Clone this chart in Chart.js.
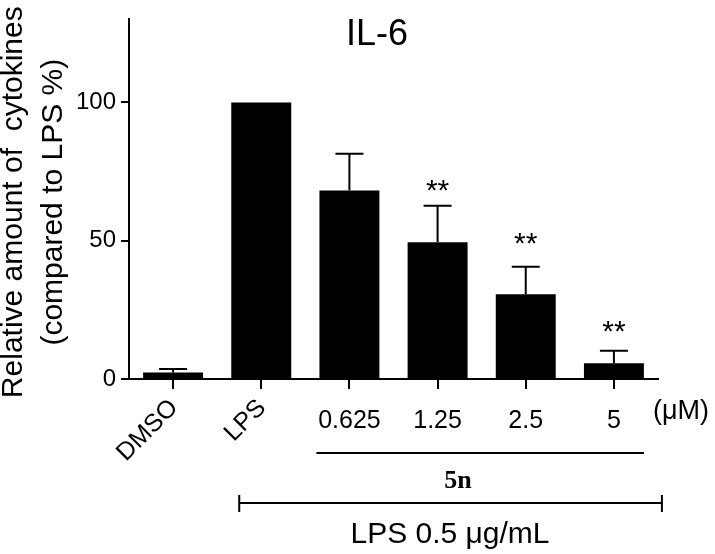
<!DOCTYPE html>
<html>
<head>
<meta charset="utf-8">
<script src="https://cdn.jsdelivr.net/npm/chart.js@4/dist/chart.umd.min.js"></script>
<style>
  html, body { margin: 0; padding: 0; background: #fff; }
  #wrap { width: 715px; height: 554px; }
</style>
</head>
<body>
<div id="wrap"><canvas id="c" width="715" height="554"></canvas></div>
<script>
// ---- data ----
const categories = ['DMSO', 'LPS', '0.625', '1.25', '2.5', '5'];
const means      = [2.35, 100, 68.1, 49.4, 30.6, 5.7];
const sem        = [1.25, 0, 13.3, 13.2, 10.0, 4.5];
const sigLabels  = ['', '', '', '**', '**', '**'];
const sigY       = [null, null, null, 70.7, 51.6, 20.0];
const yTicks     = [0, 50, 100];
const yMax       = 130;
const chartTitle = 'IL-6';
const yTitle     = ['Relative amount of  cytokines', '(compared to LPS %)'];
const unitLabel  = '(\u03bcM)';
const compoundLabel = '5n';
const lpsLabel   = 'LPS 0.5 \u03bcg/mL';

const SANS = '"Liberation Sans", Arial, Helvetica, sans-serif';
const SERIF = '"Liberation Serif", "Times New Roman", serif';

const annot = {
  id: 'annot',
  afterDatasetsDraw(chart) {
    const { ctx, scales: { x, y } } = chart;
    ctx.save();
    ctx.strokeStyle = '#000';
    ctx.fillStyle = '#000';
    ctx.lineWidth = 2;
    // error bars (upper only)
    means.forEach((m, i) => {
      if (!sem[i]) return;
      const cx = x.getPixelForValue(i);
      const top = y.getPixelForValue(m);
      const e = y.getPixelForValue(m + sem[i]);
      ctx.beginPath();
      ctx.moveTo(cx, top);
      ctx.lineTo(cx, e);
      ctx.moveTo(cx - 14, e);
      ctx.lineTo(cx + 14, e);
      ctx.stroke();
    });
    // significance stars
    ctx.font = '30px ' + SANS;
    ctx.textAlign = 'center';
    ctx.textBaseline = 'alphabetic';
    sigLabels.forEach((s, i) => {
      if (!s) return;
      const cx = x.getPixelForValue(i);
      const cy = y.getPixelForValue(sigY[i]);
      ctx.fillText(s, cx, cy + 17);
    });
    ctx.restore();
  },
  afterDraw(chart) {
    const { ctx, scales: { x }, chartArea } = chart;
    const bottom = chartArea.bottom;
    ctx.save();
    ctx.fillStyle = '#000';
    ctx.strokeStyle = '#000';
    // title
    ctx.font = '36px ' + SANS;
    ctx.textAlign = 'center';
    ctx.textBaseline = 'middle';
    ctx.fillText(chartTitle, 377, 35);

    // y title (rotated)
    ctx.font = '30px ' + SANS;
    ctx.textAlign = 'center';
    ctx.textBaseline = 'middle';
    const midY = (chartArea.top + chartArea.bottom) / 2 + 3;
    [14, 54].forEach((lx, k) => {
      ctx.save();
      ctx.translate(lx, midY);
      ctx.rotate(-Math.PI / 2);
      ctx.fillText(yTitle[k], 0, 0);
      ctx.restore();
    });

    // x tick labels
    categories.forEach((c, i) => {
      const cx = x.getPixelForValue(i);
      if (i < 2) {
        ctx.save();
        ctx.font = '25px ' + SANS;
        ctx.translate(cx + 1, bottom + 25);
        ctx.rotate(-Math.PI / 4);
        ctx.textAlign = 'right';
        ctx.textBaseline = 'middle';
        ctx.fillText(c, 0, 0);
        ctx.restore();
      } else {
        ctx.font = '25px ' + SANS;
        ctx.textAlign = 'center';
        ctx.textBaseline = 'middle';
        ctx.fillText(c, cx, bottom + 42);
      }
    });
    // unit
    ctx.font = '27px ' + SANS;
    ctx.textAlign = 'left';
    ctx.textBaseline = 'middle';
    ctx.fillText(unitLabel, 653, bottom + 33);

    // compound bracket line
    ctx.lineWidth = 2;
    const x2 = x.getPixelForValue(2), x5 = x.getPixelForValue(5), x1 = x.getPixelForValue(1);
    ctx.beginPath();
    ctx.moveTo(x2 - 33, bottom + 74);
    ctx.lineTo(x5 + 30, bottom + 74);
    ctx.stroke();
    ctx.font = 'bold 26px ' + SERIF;
    ctx.textAlign = 'center';
    ctx.fillText(compoundLabel, 458, bottom + 102);

    // LPS bracket
    const lx0 = x1 - 22, lx1 = x5 + 48, ly = bottom + 124;
    ctx.beginPath();
    ctx.moveTo(lx0, ly); ctx.lineTo(lx1, ly);
    ctx.moveTo(lx0, ly - 8); ctx.lineTo(lx0, ly + 9);
    ctx.moveTo(lx1, ly - 8); ctx.lineTo(lx1, ly + 9);
    ctx.stroke();
    ctx.font = '30px ' + SANS;
    ctx.fillText(lpsLabel, 450, bottom + 156);
    ctx.restore();
  }
};

new Chart(document.getElementById('c'), {
  type: 'bar',
  data: {
    labels: categories,
    datasets: [{
      data: means,
      backgroundColor: '#000',
      borderWidth: 0,
      categoryPercentage: 1,
      barPercentage: 0.68
    }]
  },
  options: {
    responsive: false,
    animation: false,
    devicePixelRatio: 1,
    layout: { padding: { left: 0, top: 8, right: 57, bottom: 0 } },
    plugins: { legend: { display: false }, tooltip: { enabled: false }, title: { display: false } },
    scales: {
      x: {
        offset: true,
        grid: { display: true, drawOnChartArea: false, drawTicks: true, tickLength: 10, offset: false, color: '#000', lineWidth: 2 },
        border: { display: true, color: '#000', width: 2 },
        ticks: { display: false },
        afterFit(s) { s.height = 175; }
      },
      y: {
        min: 0,
        max: yMax,
        afterBuildTicks(s) { s.ticks = yTicks.map(v => ({ value: v })); },
        grid: { display: true, drawOnChartArea: false, drawTicks: true, tickLength: 8, color: '#000', lineWidth: 2 },
        border: { display: true, color: '#000', width: 2 },
        ticks: { color: '#000', padding: 5, font: { family: SANS, size: 24 } },
        afterFit(s) { s.width = 129; }
      }
    }
  },
  plugins: [annot]
});
</script>
</body>
</html>
